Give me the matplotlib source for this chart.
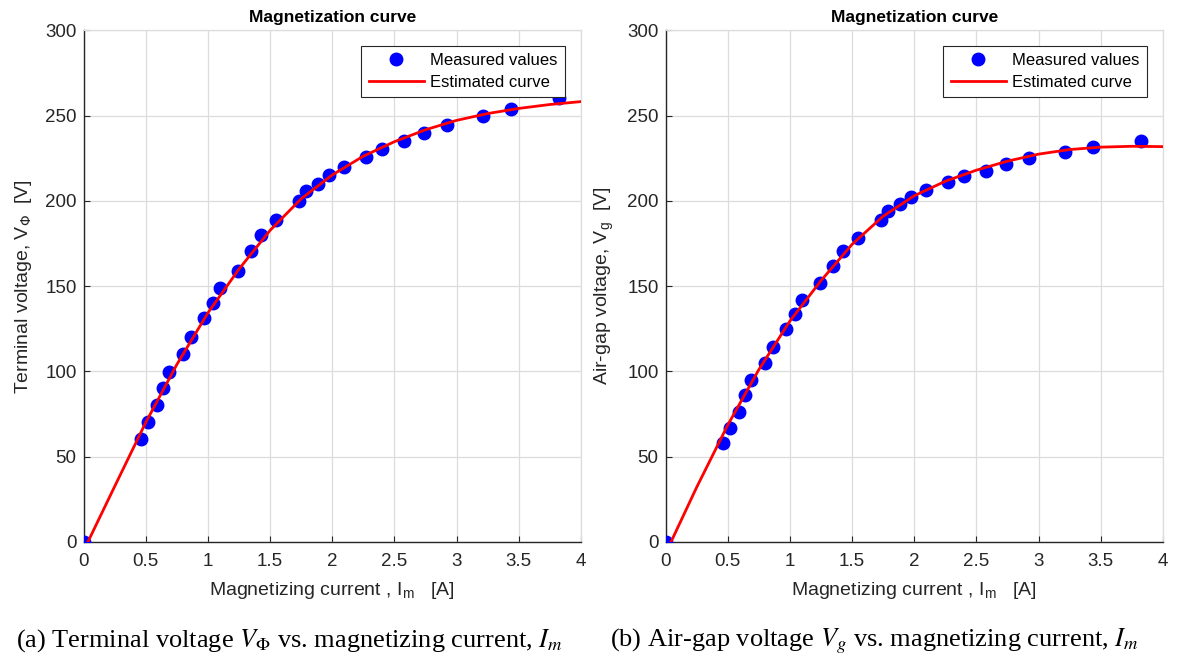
import matplotlib
matplotlib.use("Agg")
import matplotlib.pyplot as plt

# measured magnetizing current [A] (same for both plots)
current = [0, 0.465, 0.515, 0.59, 0.64, 0.69, 0.80, 0.865, 0.97, 1.04, 1.10,
           1.24, 1.35, 1.43, 1.55, 1.735, 1.79, 1.887, 1.977, 2.095, 2.27,
           2.40, 2.577, 2.74, 2.925, 3.215, 3.44, 3.825]
v_terminal = [0, 60.3, 70.3, 80.1, 90.1, 99.9, 110.2, 120, 131.2, 140.4, 148.8,
              159, 170.7, 179.7, 188.9, 199.9, 205.9, 210, 215, 219.8, 225.5,
              230.6, 234.9, 240, 244.7, 249.9, 253.9, 260.5]
v_airgap = [0, 57.9, 67.1, 76.1, 85.9, 95.1, 104.9, 114.1, 125.1, 133.8, 141.6,
            152, 161.8, 170.8, 178.2, 188.5, 194.1, 198.1, 202, 206.5, 210.8,
            214.7, 217.6, 221.8, 225, 228.8, 231.4, 235.3]

# estimated curves
curve_x_a = [0.035, 0.25, 0.5, 0.75, 1.0, 1.25, 1.5, 1.75, 2.0, 2.25, 2.5,
             2.75, 3.0, 3.25, 3.5, 3.75, 4.0]
curve_y_a = [0, 32.5, 70, 104, 134.3, 160, 182.7, 201.2, 215.2, 226.2, 234.7,
             241.7, 247.2, 251.2, 254.2, 256.5, 258.2]
curve_x_b = [0.044, 0.25, 0.5, 0.75, 1.0, 1.25, 1.5, 1.75, 2.0, 2.25, 2.5,
             2.75, 3.0, 3.25, 3.5, 3.75, 4.0]
curve_y_b = [0, 32, 68.5, 101, 129.5, 153.2, 174.5, 191, 203, 211.5, 218,
             223.3, 227.4, 230.1, 231.5, 232.0, 231.8]

xticks = [0, 0.5, 1, 1.5, 2, 2.5, 3, 3.5, 4]
xticklabels = ["0", "0.5", "1", "1.5", "2", "2.5", "3", "3.5", "4"]
yticks = [0, 50, 100, 150, 200, 250, 300]

plt.rcParams["font.family"] = ["Liberation Sans", "DejaVu Sans"]

W, H = 1177, 659
fig = plt.figure(figsize=(W / 100, H / 100), dpi=100)

panels = [
    (83.5, v_terminal, curve_x_a, curve_y_a, "Terminal voltage, V$_{\\Phi}$  [V]",
     "(a) Terminal voltage $V_\\Phi$ vs. magnetizing current, $I_m$", 289),
    (665.5, v_airgap, curve_x_b, curve_y_b, "Air-gap voltage, V$_{\\mathregular{g}}$  [V]",
     "(b) Air-gap voltage $V_g$ vs. magnetizing current, $I_m$", 874),
]

for x0, meas, cx, cy, ylab, cap, capx in panels:
    ax = fig.add_axes([x0 / W, 1 - 542 / H, 497.5 / W, 511.7 / H])
    ax.plot(current, meas, "o", color="#0000ff", markersize=9,
            label="Measured values", zorder=3)
    ax.plot(cx, cy, "-", color="#ff0000", linewidth=2, label="Estimated curve",
            zorder=4)
    ax.set_xlim(0, 4)
    ax.set_ylim(0, 300)
    ax.set_xticks(xticks)
    ax.set_xticklabels(xticklabels)
    ax.set_yticks(yticks)
    ax.grid(True, color="#dcdcdc", linewidth=0.9)
    ax.set_axisbelow(True)
    ax.tick_params(direction="in", length=4, labelsize=13.5, colors="#262626",
                   pad=5)
    ax.tick_params(axis="x", pad=8)
    for side in ("left", "bottom"):
        ax.spines[side].set_color("#262626")
        ax.spines[side].set_linewidth(1.0)
    for side in ("top", "right"):
        ax.spines[side].set_color("#dcdcdc")
        ax.spines[side].set_linewidth(0.9)
    ax.set_title("Magnetization curve", fontsize=12.5, fontweight="bold",
                 color="#000000", pad=6)
    ax.set_xlabel("Magnetizing current , I$_{\\mathregular{m}}$   [A]",
                  fontsize=14, color="#262626", labelpad=7)
    ax.set_ylabel(ylab, fontsize=14, color="#262626", labelpad=8)
    leg = ax.legend(loc="upper right", bbox_to_anchor=(0.968, 0.97),
                    fontsize=12, fancybox=False, framealpha=1,
                    edgecolor="#262626", borderaxespad=0, handlelength=3.3,
                    handletextpad=0.4, borderpad=0.45, labelspacing=0.4)
    leg.get_frame().set_linewidth(0.8)
    fig.text(capx / W, 1 - 641 / H, cap, ha="center", va="center",
             fontsize=19, family=["Liberation Serif", "DejaVu Serif"],
             math_fontfamily="stix")

fig.savefig("out.png", dpi=100)
